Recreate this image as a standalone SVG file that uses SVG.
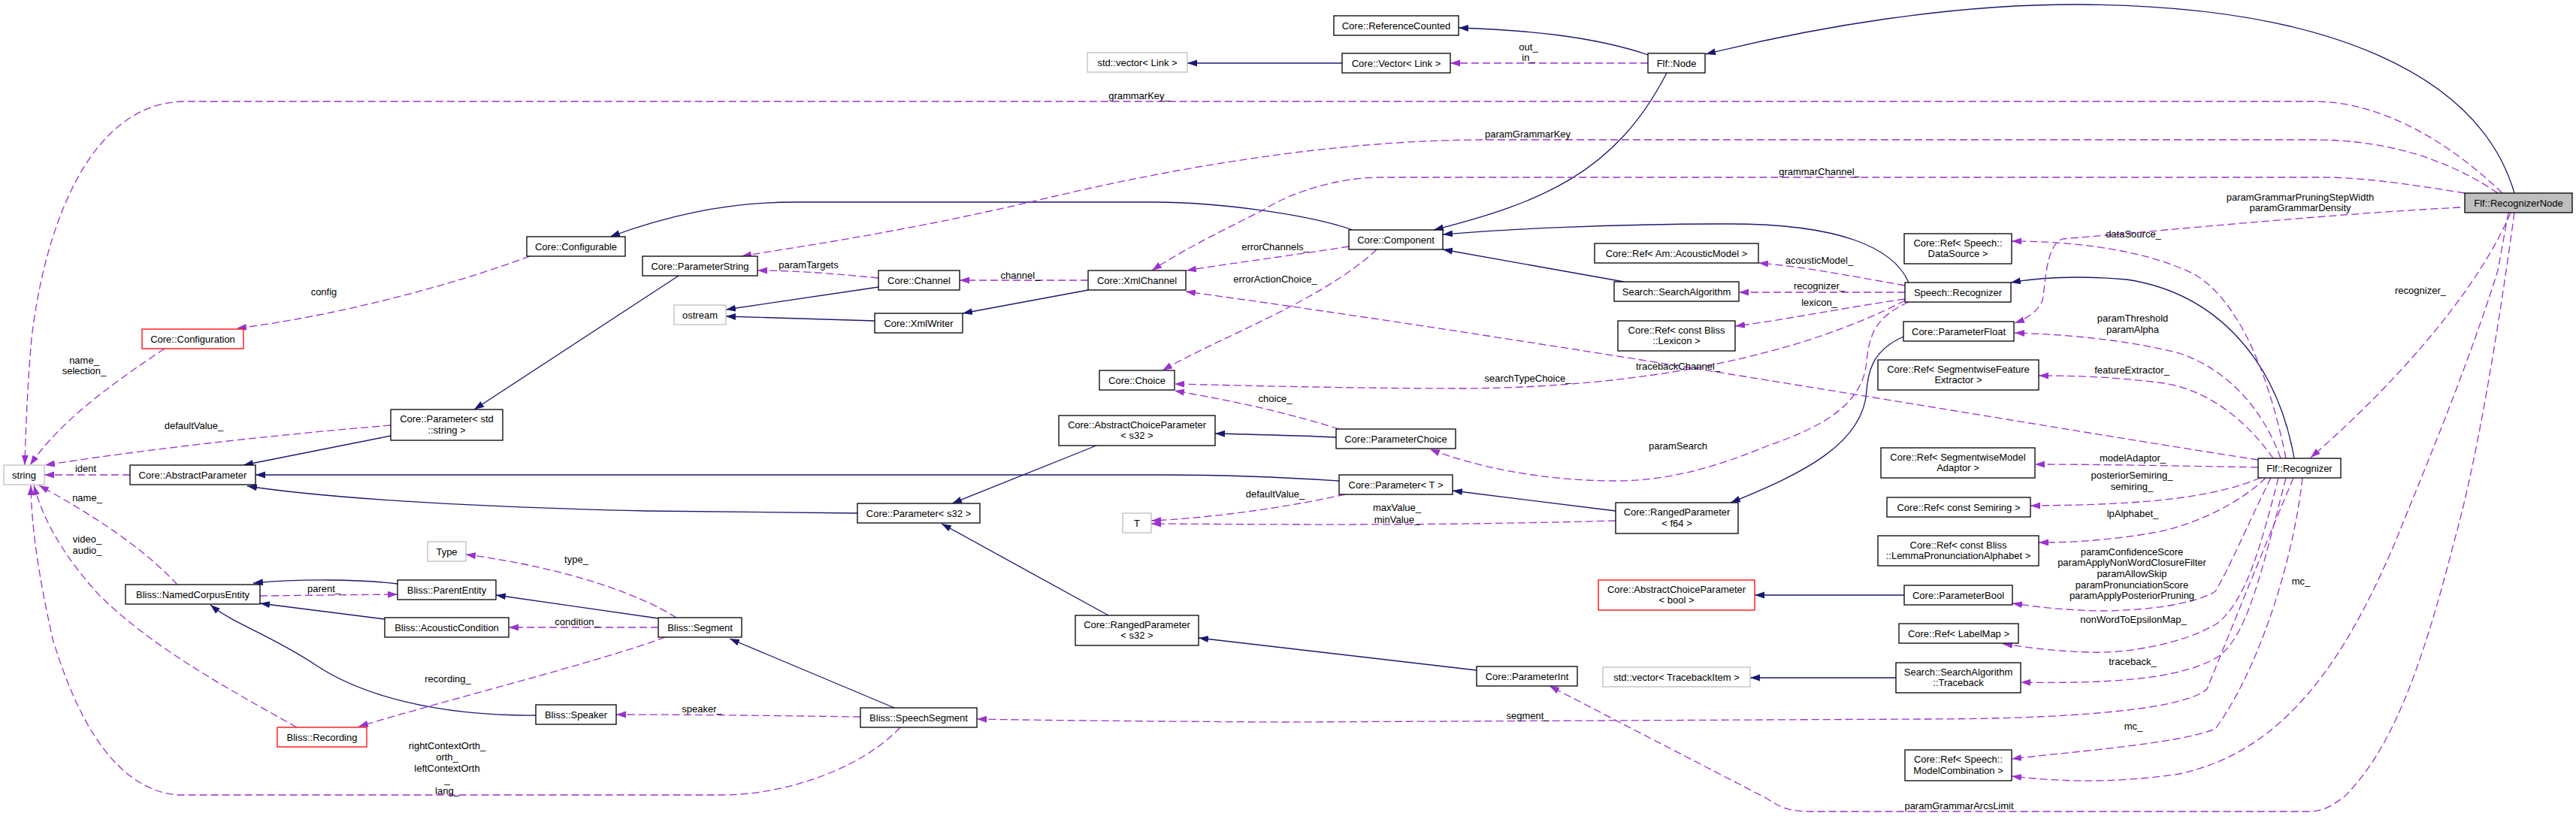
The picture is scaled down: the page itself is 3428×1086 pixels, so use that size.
<svg xmlns="http://www.w3.org/2000/svg" width="3428" height="1086" viewBox="0 0 3428 1086">
<style>
text{font-family:"Liberation Sans",Arial,sans-serif;font-size:13px;text-anchor:middle;fill:#000}
.n rect{fill:#fff;stroke:#000;stroke-width:1.3}
.g rect{stroke:#bfbfbf}
.r rect{stroke:#ff0000}
.h rect{fill:#bfbfbf}
.i{fill:none;stroke:#191970;stroke-width:1.3;marker-end:url(#ab)}
.u{fill:none;stroke:#9a32cd;stroke-width:1.3;stroke-dasharray:10 5;marker-end:url(#ap)}
</style>
<defs>
<marker id="ab" markerUnits="userSpaceOnUse" markerWidth="14" markerHeight="10" refX="13" refY="5" orient="auto"><path d="M0,0.5 L13,5 L0,9.5 z" fill="#191970"/></marker>
<marker id="ap" markerUnits="userSpaceOnUse" markerWidth="14" markerHeight="10" refX="13" refY="5" orient="auto"><path d="M0,0.5 L13,5 L0,9.5 z" fill="#9a32cd"/></marker>
</defs>
<rect width="3428" height="1086" fill="#fff"/>
<g id="edges">
<path class="i" d="M3346,257 C3300,100 3100,8 2770,6 C2600,5 2420,35 2270,72"/>
<path class="i" d="M2193,73 C2120,48 2030,40 1941,37"/>
<path class="i" d="M2218,97 C2150,230 2050,270 1908,306"/>
<path class="i" d="M2540,376 C2520,330 2450,298 2300,298 C2150,298 2000,305 1920,312"/>
<path class="i" d="M2161,375 L1920,332"/>
<path class="i" d="M1800,306 C1740,285 1620,269 1536,269 L1058,269 C960,269 880,290 812,315"/>
<path class="i" d="M1786,84 L1580,84"/>
<path class="i" d="M903,367 L631,545"/>
<path class="i" d="M520,580 L324,619"/>
<path class="i" d="M1782,640 C1720,636 1650,632 1550,632 L340,632"/>
<path class="i" d="M1141,683 C1000,682 900,680 860,680 C650,675 450,665 329,647"/>
<path class="i" d="M1169,382 L966,412"/>
<path class="i" d="M1164,427 L966,421"/>
<path class="i" d="M1448,386 L1281,417"/>
<path class="i" d="M1459,593 L1267,670"/>
<path class="i" d="M1778,582 C1740,580 1700,579 1617,577"/>
<path class="i" d="M1475,819 L1253,697"/>
<path class="i" d="M1965,892 L1595,849"/>
<path class="i" d="M2150,680 L1933,653"/>
<path class="i" d="M2533,448 C2495,465 2486,490 2484,520 C2480,590 2400,630 2303,669"/>
<path class="i" d="M3053,610 C3030,480 2950,390 2830,372 C2760,366 2710,370 2676,376"/>
<path class="i" d="M2534,792 L2335,792"/>
<path class="i" d="M2523,902 L2329,902"/>
<path class="i" d="M876,823 L660,792"/>
<path class="i" d="M529,777 C480,771 400,770 337,776"/>
<path class="i" d="M512,824 L346,803"/>
<path class="i" d="M713,952 C580,953 480,925 420,885 C360,845 310,830 280,805"/>
<path class="i" d="M1190,942 L971,850"/>

<path class="u" d="M3330,257 C3250,180 3160,135 3080,135 L247,135 C120,135 60,300 42,450 C36,520 34,580 33,619"/>
<path class="u" d="M3324,257 C3240,200 3150,186 3080,186 L1980,186 C1800,186 1600,215 1400,262 C1200,310 1050,330 987,341"/>
<path class="u" d="M3280,257 C3200,244 3140,236 3090,236 L1840,236 C1780,236 1720,255 1680,280 C1620,310 1570,335 1533,360"/>
<path class="u" d="M3274,276 C3100,285 2900,305 2745,318 C2722,325 2722,380 2718,400 C2712,415 2695,425 2681,430"/>
<path class="u" d="M3341,283 C3300,380 3200,500 3075,609"/>
<path class="u" d="M3338,283 L3324,360 C3280,500 3220,640 3188,720 C3120,880 3040,1000 2900,1030 C2800,1045 2720,1038 2677,1033"/>
<path class="u" d="M3346,283 C3330,400 3300,600 3266,720 C3220,900 3180,1000 3120,1060 C3100,1075 3090,1080 3070,1080 L2410,1080 C2380,1080 2370,1075 2350,1062 L2062,913"/>
<path class="u" d="M3042,610 C3020,500 2980,400 2920,365 C2850,330 2750,321 2677,321"/>
<path class="u" d="M3035,610 C3010,540 2960,490 2900,470 C2820,450 2740,445 2681,443"/>
<path class="u" d="M3025,610 C2990,560 2940,520 2880,510 C2800,500 2750,500 2713,500"/>
<path class="u" d="M3005,612 C2700,565 2100,460 1578,388"/>
<path class="u" d="M3005,622 C2900,620 2800,618 2708,618"/>
<path class="u" d="M3008,636 C2950,660 2870,672 2702,673"/>
<path class="u" d="M3015,636 C2980,670 2920,700 2860,710 C2800,720 2750,722 2713,722"/>
<path class="u" d="M3022,636 C2990,700 2965,760 2948,787 C2920,805 2850,813 2793,813 C2740,812 2700,806 2678,803"/>
<path class="u" d="M3032,636 C3010,720 2990,800 2950,830 C2900,860 2820,870 2780,868 C2720,866 2690,860 2665,857"/>
<path class="u" d="M3042,636 C3010,760 2990,850 2950,875 C2900,905 2800,910 2689,908"/>
<path class="u" d="M3052,636 C3000,760 2960,860 2937,917 C2900,950 2700,957 2560,957 L1710,961 C1500,960 1350,958 1300,957"/>
<path class="u" d="M3064,636 C3050,760 3000,900 2948,970 C2900,990 2760,1000 2677,1010"/>
<path class="u" d="M1795,328 C1720,340 1640,350 1579,360"/>
<path class="u" d="M1832,332 C1760,400 1620,450 1547,493"/>
<path class="u" d="M2535,400 C2400,470 2200,515 1950,517 C1800,517 1650,513 1563,511"/>
<path class="u" d="M1782,571 C1700,545 1620,530 1563,520"/>
<path class="u" d="M2540,402 C2500,420 2488,440 2484,480 C2480,540 2420,570 2353,593 C2300,615 2230,640 2150,640 C2050,640 1960,620 1903,598"/>
<path class="u" d="M2535,380 C2450,365 2400,355 2340,350"/>
<path class="u" d="M2535,389 L2314,389"/>
<path class="u" d="M2535,398 C2450,410 2380,425 2309,434"/>
<path class="u" d="M1448,373 L1277,373"/>
<path class="u" d="M1169,370 C1100,363 1050,360 1008,360"/>
<path class="u" d="M705,341 C600,380 450,420 315,437"/>
<path class="u" d="M219,464 C150,510 80,560 40,619"/>
<path class="u" d="M520,566 C350,580 180,600 60,619"/>
<path class="u" d="M173,632 L59,632"/>
<path class="u" d="M1790,658 C1700,678 1600,690 1532,693"/>
<path class="u" d="M2150,693 C1900,700 1700,698 1532,697"/>
<path class="u" d="M236,778 C200,740 150,700 52,646"/>
<path class="u" d="M395,968 C300,915 200,860 130,790 C90,745 60,700 45,646"/>
<path class="u" d="M1198,968 C1150,1020 1050,1058 960,1058 L236,1058 C150,1050 100,950 70,850 C50,760 42,700 41,646"/>
<path class="u" d="M1145,954 C1000,952 900,951 820,951"/>
<path class="u" d="M900,822 C850,790 750,755 620,738"/>
<path class="u" d="M876,835 L677,835"/>
<path class="u" d="M885,848 C800,880 600,930 477,967"/>
<path class="u" d="M346,793 L529,791"/>
<path class="u" d="M2193,84 L1930,84"/>

<text x="1516" y="132">grammarKey_</text>
<text x="2033" y="183">paramGrammarKey</text>
<text x="2421" y="233">grammarChannel_</text>
<text x="3061" y="267">paramGrammarPruningStepWidth</text>
<text x="3061" y="281">paramGrammarDensity</text>
<text x="3221" y="391">recognizer_</text>
<text x="2839" y="316">dataSource_</text>
<text x="2838" y="428">paramThreshold</text>
<text x="2838" y="443">paramAlpha</text>
<text x="2837" y="497">featureExtractor_</text>
<text x="2233" y="492">tracebackChannel_</text>
<text x="2838" y="614">modelAdaptor_</text>
<text x="2837" y="637">posteriorSemiring_</text>
<text x="2837" y="652">semiring_</text>
<text x="2838" y="688">lpAlphabet_</text>
<text x="2837" y="739">paramConfidenceScore</text>
<text x="2837" y="753">paramApplyNonWordClosureFilter</text>
<text x="2837" y="768">paramAllowSkip</text>
<text x="2837" y="783">paramPronunciationScore</text>
<text x="2837" y="797">paramApplyPosteriorPruning</text>
<text x="2839" y="829">nonWordToEpsilonMap_</text>
<text x="2838" y="885">traceback_</text>
<text x="2033" y="957">segment_</text>
<text x="2839" y="971">mc_</text>
<text x="3062" y="778">mc_</text>
<text x="2607" y="1077">paramGrammarArcsLimit</text>
<text x="1697" y="333">errorChannels_</text>
<text x="1697" y="376">errorActionChoice_</text>
<text x="2033" y="508">searchTypeChoice_</text>
<text x="1697" y="535">choice_</text>
<text x="2233" y="598">paramSearch</text>
<text x="2421" y="351">acousticModel_</text>
<text x="2421" y="385">recognizer_</text>
<text x="2421" y="407">lexicon_</text>
<text x="1358" y="371">channel_</text>
<text x="1076" y="357">paramTargets</text>
<text x="431" y="393">config</text>
<text x="112" y="484">name_</text>
<text x="112" y="498">selection_</text>
<text x="258" y="571">defaultValue_</text>
<text x="114" y="628">ident</text>
<text x="1697" y="662">defaultValue_</text>
<text x="1859" y="680">maxValue_</text>
<text x="1859" y="696">minValue_</text>
<text x="116" y="667">name_</text>
<text x="116" y="722">video_</text>
<text x="116" y="737">audio_</text>
<text x="595" y="997">rightContextOrth_</text>
<text x="595" y="1012">orth_</text>
<text x="595" y="1027">leftContextOrth</text>
<text x="595" y="1042">_</text>
<text x="595" y="1057">lang_</text>
<text x="934" y="948">speaker_</text>
<text x="767" y="749">type_</text>
<text x="768" y="832">condition_</text>
<text x="596" y="908">recording_</text>
<text x="431" y="788">parent_</text>
<text x="2034" y="67">out_</text>
<text x="2034" y="81">in_</text>
</g>

<g id="n_RecognizerNode" class="n h"><rect x="3280" y="257" width="143" height="26"/><text x="3351.5" y="274.5">Flf::RecognizerNode</text></g>
<g id="n_FlfNode" class="n"><rect x="2193" y="71" width="76" height="26"/><text x="2231" y="88.5">Flf::Node</text></g>
<g id="n_ReferenceCounted" class="n"><rect x="1775" y="21" width="166" height="26"/><text x="1858" y="38.5">Core::ReferenceCounted</text></g>
<g id="n_VectorLink" class="n"><rect x="1786" y="71" width="144" height="26"/><text x="1858" y="88.5">Core::Vector&lt; Link &gt;</text></g>
<g id="n_stdVectorLink" class="n g"><rect x="1447" y="70" width="133" height="26"/><text x="1513.5" y="87.5">std::vector&lt; Link &gt;</text></g>
<g id="n_Component" class="n"><rect x="1795" y="306" width="125" height="26"/><text x="1857.5" y="323.5">Core::Component</text></g>
<g id="n_Configurable" class="n"><rect x="701" y="315" width="131" height="26"/><text x="766.5" y="332.5">Core::Configurable</text></g>
<g id="n_ParameterString" class="n"><rect x="855" y="341" width="153" height="26"/><text x="931.5" y="358.5">Core::ParameterString</text></g>
<g id="n_Channel" class="n"><rect x="1169" y="360" width="108" height="26"/><text x="1223" y="377.5">Core::Channel</text></g>
<g id="n_XmlChannel" class="n"><rect x="1448" y="360" width="130" height="26"/><text x="1513" y="377.5">Core::XmlChannel</text></g>
<g id="n_ostream" class="n g"><rect x="897" y="406" width="69" height="26"/><text x="931.5" y="423.5">ostream</text></g>
<g id="n_XmlWriter" class="n"><rect x="1164" y="417" width="117" height="26"/><text x="1222.5" y="434.5">Core::XmlWriter</text></g>
<g id="n_Configuration" class="n r"><rect x="189" y="438" width="135" height="26"/><text x="256.5" y="455.5">Core::Configuration</text></g>
<g id="n_ParamStdString" class="n"><rect x="520" y="545" width="149" height="41"/><text x="594.5" y="562">Core::Parameter&lt; std</text><text x="594.5" y="576.5">::string &gt;</text></g>
<g id="n_string" class="n g"><rect x="5" y="619" width="54" height="26"/><text x="32" y="636.5">string</text></g>
<g id="n_AbstractParameter" class="n"><rect x="173" y="619" width="167" height="26"/><text x="256.5" y="636.5">Core::AbstractParameter</text></g>
<g id="n_Choice" class="n"><rect x="1463" y="493" width="100" height="26"/><text x="1513" y="510.5">Core::Choice</text></g>
<g id="n_AbsChoiceS32" class="n"><rect x="1409" y="553" width="208" height="40"/><text x="1513" y="569.5">Core::AbstractChoiceParameter</text><text x="1513" y="584">&lt; s32 &gt;</text></g>
<g id="n_ParamS32" class="n"><rect x="1141" y="670" width="163" height="26"/><text x="1222.5" y="687.5">Core::Parameter&lt; s32 &gt;</text></g>
<g id="n_T" class="n g"><rect x="1494" y="683" width="38" height="26"/><text x="1513" y="700.5">T</text></g>
<g id="n_RefAM" class="n"><rect x="2122" y="324" width="218" height="26"/><text x="2231" y="341.5">Core::Ref&lt; Am::AcousticModel &gt;</text></g>
<g id="n_SearchAlgorithm" class="n"><rect x="2148" y="375" width="166" height="26"/><text x="2231" y="392.5">Search::SearchAlgorithm</text></g>
<g id="n_RefLexicon" class="n"><rect x="2153" y="427" width="156" height="40"/><text x="2231" y="443.5">Core::Ref&lt; const Bliss</text><text x="2231" y="458">::Lexicon &gt;</text></g>
<g id="n_SpeechRecognizer" class="n"><rect x="2535" y="376" width="141" height="26"/><text x="2605.5" y="393.5">Speech::Recognizer</text></g>
<g id="n_RefDataSource" class="n"><rect x="2534" y="311" width="143" height="40"/><text x="2605.5" y="327.5">Core::Ref&lt; Speech::</text><text x="2605.5" y="342">DataSource &gt;</text></g>
<g id="n_ParameterFloat" class="n"><rect x="2533" y="428" width="147" height="26"/><text x="2606.5" y="445.5">Core::ParameterFloat</text></g>
<g id="n_RefFeatureExtractor" class="n"><rect x="2499" y="479" width="214" height="40"/><text x="2606" y="495.5">Core::Ref&lt; SegmentwiseFeature</text><text x="2606" y="510">Extractor &gt;</text></g>
<g id="n_ParameterChoice" class="n"><rect x="1778" y="571" width="159" height="26"/><text x="1857.5" y="588.5">Core::ParameterChoice</text></g>
<g id="n_ParamT" class="n"><rect x="1782" y="632" width="151" height="26"/><text x="1857.5" y="649.5">Core::Parameter&lt; T &gt;</text></g>
<g id="n_RangedF64" class="n"><rect x="2150" y="669" width="163" height="41"/><text x="2231.5" y="686">Core::RangedParameter</text><text x="2231.5" y="700.5">&lt; f64 &gt;</text></g>
<g id="n_RefModelAdaptor" class="n"><rect x="2503" y="596" width="205" height="40"/><text x="2605.5" y="612.5">Core::Ref&lt; SegmentwiseModel</text><text x="2605.5" y="627">Adaptor &gt;</text></g>
<g id="n_RefSemiring" class="n"><rect x="2511" y="662" width="191" height="26"/><text x="2606.5" y="679.5">Core::Ref&lt; const Semiring &gt;</text></g>
<g id="n_RefLemmaAlphabet" class="n"><rect x="2499" y="713" width="214" height="40"/><text x="2606" y="729.5">Core::Ref&lt; const Bliss</text><text x="2606" y="744">::LemmaPronunciationAlphabet &gt;</text></g>
<g id="n_FlfRecognizer" class="n"><rect x="3005" y="610" width="110" height="26"/><text x="3060" y="627.5">Flf::Recognizer</text></g>
<g id="n_AbsChoiceBool" class="n r"><rect x="2127" y="772" width="208" height="40"/><text x="2231" y="788.5">Core::AbstractChoiceParameter</text><text x="2231" y="803">&lt; bool &gt;</text></g>
<g id="n_ParameterBool" class="n"><rect x="2534" y="779" width="144" height="26"/><text x="2606" y="796.5">Core::ParameterBool</text></g>
<g id="n_RefLabelMap" class="n"><rect x="2527" y="830" width="159" height="26"/><text x="2606.5" y="847.5">Core::Ref&lt; LabelMap &gt;</text></g>
<g id="n_Traceback" class="n"><rect x="2523" y="882" width="166" height="40"/><text x="2606" y="898.5">Search::SearchAlgorithm</text><text x="2606" y="913">::Traceback</text></g>
<g id="n_vecTraceback" class="n g"><rect x="2133" y="888" width="196" height="26"/><text x="2231" y="905.5">std::vector&lt; TracebackItem &gt;</text></g>
<g id="n_ParameterInt" class="n"><rect x="1965" y="887" width="134" height="26"/><text x="2032" y="904.5">Core::ParameterInt</text></g>
<g id="n_RefModelComb" class="n"><rect x="2535" y="998" width="142" height="41"/><text x="2606" y="1015">Core::Ref&lt; Speech::</text><text x="2606" y="1029.5">ModelCombination &gt;</text></g>
<g id="n_RangedS32" class="n"><rect x="1431" y="819" width="164" height="40"/><text x="1513" y="835.5">Core::RangedParameter</text><text x="1513" y="850">&lt; s32 &gt;</text></g>
<g id="n_Type" class="n g"><rect x="569" y="721" width="51" height="26"/><text x="594.5" y="738.5">Type</text></g>
<g id="n_NamedCorpusEntity" class="n"><rect x="167" y="778" width="179" height="26"/><text x="256.5" y="795.5">Bliss::NamedCorpusEntity</text></g>
<g id="n_ParentEntity" class="n"><rect x="529" y="772" width="131" height="26"/><text x="594.5" y="789.5">Bliss::ParentEntity</text></g>
<g id="n_AcousticCondition" class="n"><rect x="512" y="822" width="165" height="26"/><text x="594.5" y="839.5">Bliss::AcousticCondition</text></g>
<g id="n_Segment" class="n"><rect x="876" y="822" width="111" height="26"/><text x="931.5" y="839.5">Bliss::Segment</text></g>
<g id="n_Recording" class="n r"><rect x="369" y="968" width="119" height="26"/><text x="428.5" y="985.5">Bliss::Recording</text></g>
<g id="n_Speaker" class="n"><rect x="713" y="938" width="107" height="26"/><text x="766.5" y="955.5">Bliss::Speaker</text></g>
<g id="n_SpeechSegment" class="n"><rect x="1145" y="942" width="155" height="26"/><text x="1222.5" y="959.5">Bliss::SpeechSegment</text></g>
</svg>
